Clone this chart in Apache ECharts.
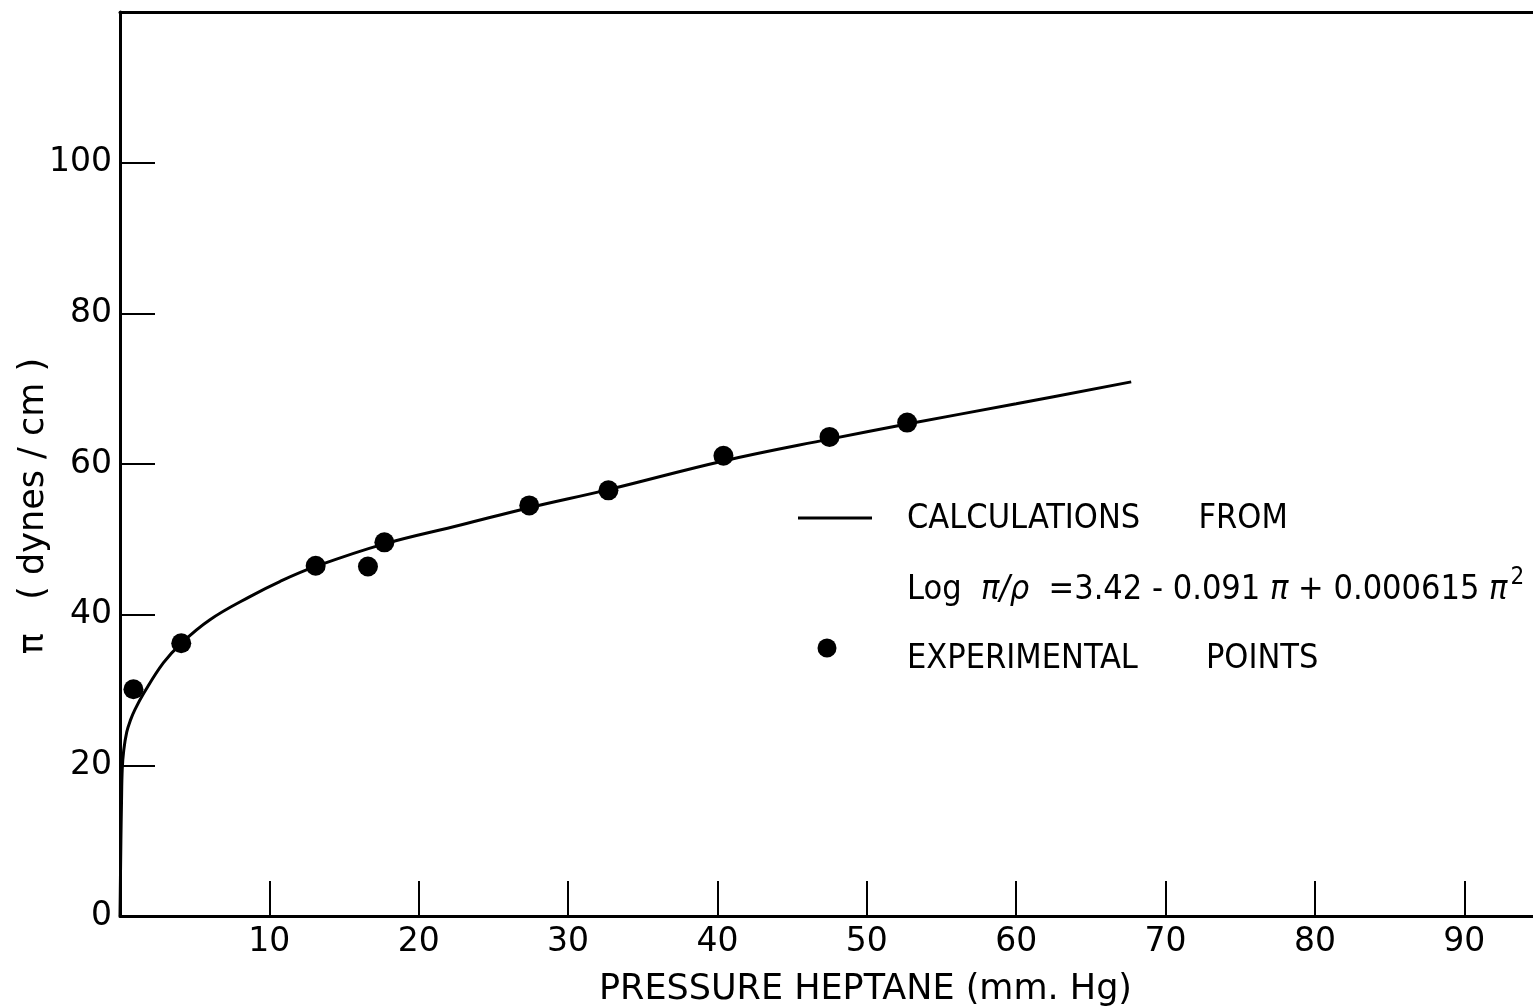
<!DOCTYPE html>
<html>
<head>
<meta charset="utf-8">
<title>Pressure heptane</title>
<script src="https://cdn.jsdelivr.net/npm/echarts@6/dist/echarts.min.js"></script>
<style>
    html, body { margin: 0; padding: 0; background: #fff; }
    #main { width: 1533px; height: 1008px; }
</style>
</head>
<body>
<div id="main"></div>
<script>
// experimental points (pressure mm Hg, pi dynes/cm)
var expPressure = [0.9, 4.1, 13.1, 16.6, 17.7, 27.4, 32.7, 40.4, 47.5, 52.7];
var expPi = [30.1, 36.2, 46.5, 46.4, 49.6, 54.5, 56.5, 61.1, 63.6, 65.5];

// calculated curve
var calcPressure = [0, 0.03, 0.06, 0.1, 0.15, 0.25, 0.45, 0.7, 1.0, 1.6, 2.9, 4.1, 6.0, 8.7, 10.7, 13.1, 17.7, 22.8, 27.4, 32.7, 40.4, 47.5, 52.7, 60, 67.7];
var calcPi = [0, 5, 10, 15, 19.5, 22.0, 24.4, 26.0, 27.4, 29.6, 33.6, 36.2, 39.3, 42.4, 44.4, 46.4, 49.4, 51.9, 54.2, 56.6, 60.4, 63.3, 65.3, 68.0, 70.9];

// tick labels
var xTicks = [10, 20, 30, 40, 50, 60, 70, 80, 90];
var yLabels = [0, 20, 40, 60, 80, 100];
var yTicks = [20, 40, 60, 80, 100];

var ink = '#000';
var numFont = '"DejaVu Sans", sans-serif';
var wideFont = '"DejaVu Sans", sans-serif';
var textFont = '"DejaVu Sans Condensed", "Liberation Sans Narrow", "DejaVu Sans", sans-serif';

function pairs(xs, ys) {
    var res = [];
    for (var i = 0; i < xs.length; i++) {
        res.push([xs[i], ys[i]]);
    }
    return res;
}

var myChart = echarts.init(document.getElementById('main'));
myChart.setOption({
    backgroundColor: '#fff',
    animation: false,
    grid: { left: 120, right: 0, top: 12, bottom: 92, outerBoundsMode: 'none', containLabel: false },
    xAxis: [{
        type: 'value',
        min: 0,
        max: 94.6,
        position: 'bottom',
        name: 'PRESSURE HEPTANE (mm. Hg)',
        nameLocation: 'middle',
        nameGap: 56,
        nameTextStyle: { color: ink, fontSize: 35, fontFamily: wideFont, padding: [0, 0, 0, 78] },
        axisLine: { onZero: false, lineStyle: { color: ink, width: 3 } },
        axisTick: { show: true, inside: true, length: 35, customValues: xTicks, lineStyle: { color: ink, width: 2 } },
        axisLabel: { customValues: xTicks, color: ink, fontSize: 33, fontFamily: numFont, margin: 10 },
        splitLine: { show: false }
    }, {
        // top frame line
        type: 'value',
        min: 0,
        max: 94.6,
        position: 'top',
        axisLine: { show: true, onZero: false, lineStyle: { color: ink, width: 3 } },
        axisTick: { show: false },
        axisLabel: { show: false },
        splitLine: { show: false }
    }],
    yAxis: {
        type: 'value',
        min: 0,
        max: 120,
        axisLine: { show: true, onZero: false, lineStyle: { color: ink, width: 3 } },
        axisTick: { show: true, inside: true, length: 35, customValues: yTicks, lineStyle: { color: ink, width: 2 } },
        axisLabel: { customValues: yLabels, color: ink, fontSize: 33, fontFamily: numFont, margin: 8 },
        splitLine: { show: false }
    },
    series: [{
        name: 'calc',
        type: 'line',
        data: pairs(calcPressure, calcPi),
        smooth: 0.4,
        showSymbol: false,
        lineStyle: { color: ink, width: 3 },
        z: 3
    }, {
        name: 'exp',
        type: 'scatter',
        data: pairs(expPressure, expPi),
        symbol: 'circle',
        symbolSize: 20,
        itemStyle: { color: ink, opacity: 1 },
        z: 4
    }],
    graphic: [
        // y axis title
        {
            type: 'text', x: 34, y: 506, rotation: Math.PI / 2,
            style: { text: 'π   ( dynes / cm )', align: 'center', verticalAlign: 'middle', fill: ink, font: '35px ' + wideFont }
        },
        // legend
        {
            type: 'line', shape: { x1: 798, y1: 518, x2: 872, y2: 518 },
            style: { stroke: ink, lineWidth: 3 }
        },
        {
            type: 'text', x: 907, y: 519,
            style: { text: 'CALCULATIONS      FROM', verticalAlign: 'middle', fill: ink, font: '34px ' + textFont }
        },
        {
            type: 'text', x: 907, y: 590,
            style: {
                text: '{a|Log  }{i|π/ρ}{a|  =3.42 - 0.091 }{i|π}{a| + 0.000615 }{i|π}{s|2}',
                verticalAlign: 'middle',
                fill: ink,
                rich: {
                    a: { fontSize: 34, fontFamily: textFont, fill: ink },
                    i: { fontSize: 34, fontFamily: textFont, fontStyle: 'italic', fill: ink },
                    s: { fontSize: 24, fontFamily: textFont, fill: ink, padding: [0, 0, 24, 3] }
                }
            }
        },
        {
            type: 'circle', shape: { cx: 827, cy: 648, r: 9.5 },
            style: { fill: ink }
        },
        {
            type: 'text', x: 907, y: 659,
            style: { text: 'EXPERIMENTAL       POINTS', verticalAlign: 'middle', fill: ink, font: '34px ' + textFont }
        }
    ]
});
</script>
</body>
</html>
